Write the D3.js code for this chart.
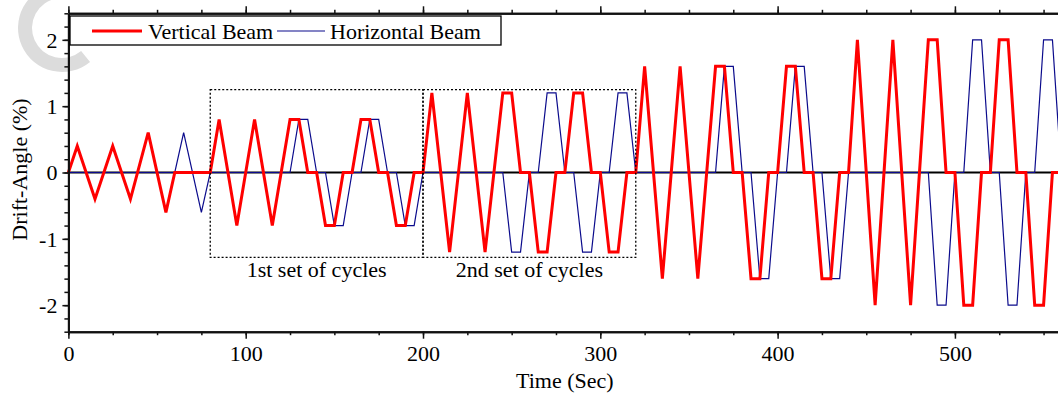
<!DOCTYPE html>
<html>
<head>
<meta charset="utf-8">
<script src="https://cdn.jsdelivr.net/npm/d3@7"></script>
<style>
  body { margin: 0; background: #fff; }
  svg text { font-family: "Liberation Serif", "Times New Roman", serif; }
</style>
</head>
<body>
<div id="chart"></div>
<script>
// loading protocol, drift angle (%) vs time (sec)
const vertTime = [0,5,15,25,35,45,55,60,80,85,95,105,115,125,130,135,140,145,150,155,160,165,170,175,180,185,190,195,200,
  205,215,225,235,245,250,255,260,265,270,275,280,285,290,295,300,305,310,315,320,
  325,335,345,355,365,370,375,380,385,390,395,400,405,410,415,420,425,430,435,440,
  445,455,465,475,485,490,495,500,505,510,515,520,525,530,535,540,545,550,555,560];
const vertDrift = [0,0.4,-0.4,0.4,-0.4,0.6,-0.6,0,0,0.8,-0.8,0.8,-0.8,0.8,0.8,0,0,-0.8,-0.8,0,0,0.8,0.8,0,0,-0.8,-0.8,0,0,
  1.2,-1.2,1.2,-1.2,1.2,1.2,0,0,-1.2,-1.2,0,0,1.2,1.2,0,0,-1.2,-1.2,0,0,
  1.6,-1.6,1.6,-1.6,1.6,1.6,0,0,-1.6,-1.6,0,0,1.6,1.6,0,0,-1.6,-1.6,0,0,
  2,-2,2,-2,2,2,0,0,-2,-2,0,0,2,2,0,0,-2,-2,0,0];

const horzTime = [0,60,65,75,80,125,130,135,140,145,150,155,160,165,170,175,180,185,190,195,200,
  245,250,255,260,265,270,275,280,285,290,295,300,305,310,315,320,
  365,370,375,380,385,390,395,400,405,410,415,420,425,430,435,440,
  485,490,495,500,505,510,515,520,525,530,535,540,545,550,555,560];
const horzDrift = [0,0,0.6,-0.6,0,0,0.8,0.8,0,0,-0.8,-0.8,0,0,0.8,0.8,0,0,-0.8,-0.8,0,
  0,-1.2,-1.2,0,0,1.2,1.2,0,0,-1.2,-1.2,0,0,1.2,1.2,0,
  0,1.6,1.6,0,0,-1.6,-1.6,0,0,1.6,1.6,0,0,-1.6,-1.6,0,
  0,-2,-2,0,0,2,2,0,0,-2,-2,0,0,2,2,0];

const xMajor = [0,100,200,300,400,500];
const yMajor = [-2,-1,0,1,2];
const seriesNames = ["Vertical Beam", "Horizontal Beam"];
const cycleSets = [
  {label: "1st set of cycles", t0: 80, t1: 200},
  {label: "2nd set of cycles", t0: 200, t1: 320}
];
const boxTop = 1.25, boxBottom = -1.28;

let width = 1058, height = 396,
  margin = ({top: 13.3, right: -3.3, bottom: 64.3, left: 68.4}),
  fontSize = 22;

const svg = d3.select("#chart")
  .append("svg")
  .attr("width", width)
  .attr("height", height)
  .attr("viewBox", [0, 0, width, height]);

let x = d3.scaleLinear()
  .domain([0, 560])
  .range([margin.left, width - margin.right]);

let y = d3.scaleLinear()
  .domain([-2.4, 2.4])
  .range([height - margin.bottom, margin.top]);

// faint watermark behind the plot
svg.append("path")
  .attr("transform", "translate(62,28)")
  .attr("d", d3.arc()({innerRadius: 30, outerRadius: 44, startAngle: 0.78 * Math.PI, endAngle: 1.95 * Math.PI}))
  .attr("fill", "#dcdcdc");

// zero line
svg.append("line")
  .attr("x1", x(0)).attr("x2", x(560))
  .attr("y1", y(0)).attr("y2", y(0))
  .attr("stroke", "#000")
  .attr("stroke-width", 2);

let line = d3.line()
  .x(d => x(d[0]))
  .y(d => y(d[1]));

svg.append("path")
  .datum(d3.zip(horzTime, horzDrift))
  .attr("d", line)
  .attr("fill", "none")
  .attr("stroke", "#0b0b8c")
  .attr("stroke-width", 1.2);

svg.append("path")
  .datum(d3.zip(vertTime, vertDrift))
  .attr("d", line)
  .attr("fill", "none")
  .attr("stroke", "#ff0000")
  .attr("stroke-width", 3)
  .attr("stroke-linejoin", "miter");

// dotted boxes round the cycle sets
svg.selectAll("rect.set")
  .data(cycleSets)
  .join("rect")
  .classed("set", true)
  .attr("x", d => x(d.t0))
  .attr("y", y(boxTop))
  .attr("width", d => x(d.t1) - x(d.t0))
  .attr("height", y(boxBottom) - y(boxTop))
  .attr("fill", "none")
  .attr("stroke", "#000")
  .attr("stroke-width", 1.3)
  .attr("stroke-dasharray", "2,2");

svg.selectAll("text.set")
  .data(cycleSets)
  .join("text")
  .classed("set", true)
  .attr("x", d => (x(d.t0) + x(d.t1)) / 2)
  .attr("y", 277)
  .attr("text-anchor", "middle")
  .attr("font-size", fontSize)
  .text(d => d.label);

// axes
function styleAxis(g) {
  g.select(".domain").attr("stroke", "#111").attr("stroke-width", 2);
  g.selectAll(".tick line").attr("stroke", "#111").attr("stroke-width", 1.5);
  g.selectAll("text").attr("font-size", fontSize).attr("fill", "#000")
    .style("font-family", '"Liberation Serif", "Times New Roman", serif');
}

let axisBottomG = svg.append("g")
  .attr("transform", `translate(0,${y(-2.4)})`);
axisBottomG.append("g")
  .call(d3.axisBottom(x).tickValues(d3.range(0, 561, 25)).tickSize(3.5).tickSizeOuter(0).tickFormat(""))
  .call(styleAxis);
axisBottomG.append("g")
  .call(d3.axisBottom(x).tickValues(xMajor).tickSize(7).tickSizeOuter(0).tickFormat(d => d))
  .call(styleAxis)
  .call(g => g.selectAll("text").attr("y", 29).attr("dy", 0));

let axisTopG = svg.append("g")
  .attr("transform", `translate(0,${y(2.4)})`);
axisTopG.append("g")
  .call(d3.axisTop(x).tickValues(d3.range(0, 561, 25)).tickSize(3.5).tickSizeOuter(0).tickFormat(""))
  .call(styleAxis);
axisTopG.append("g")
  .call(d3.axisTop(x).tickValues(xMajor).tickSize(7).tickSizeOuter(0).tickFormat(""))
  .call(styleAxis);

let axisLeftG = svg.append("g")
  .attr("transform", `translate(${x(0)},0)`);
axisLeftG.append("g")
  .call(d3.axisLeft(y).tickValues(d3.range(-2.4, 2.41, 0.2)).tickSize(4).tickSizeOuter(0).tickFormat(""))
  .call(styleAxis);
axisLeftG.append("g")
  .call(d3.axisLeft(y).tickValues(yMajor).tickSize(6).tickSizeOuter(0).tickFormat(d => String(d)))
  .call(styleAxis)
  .call(g => g.selectAll("text").attr("x", -11).attr("dy", "0.34em"));

let axisRightG = svg.append("g")
  .attr("transform", `translate(${x(560)},0)`);
axisRightG.append("g")
  .call(d3.axisRight(y).tickValues(yMajor).tickSize(6).tickSizeOuter(0).tickFormat(""))
  .call(styleAxis);

svg.append("text")
  .attr("x", (x(0) + x(560)) / 2)
  .attr("y", 388)
  .attr("text-anchor", "middle")
  .attr("font-size", fontSize)
  .text("Time (Sec)");

svg.append("text")
  .attr("transform", `translate(27,${(y(-2.4) + y(2.4)) / 2 - 3}) rotate(-90)`)
  .attr("text-anchor", "middle")
  .attr("font-size", fontSize)
  .text("Drift-Angle (%)");

// legend
let legend = svg.append("g");
legend.append("rect")
  .attr("x", 70).attr("y", 16)
  .attr("width", 431).attr("height", 29)
  .attr("fill", "#fff")
  .attr("stroke", "#000")
  .attr("stroke-width", 1.3);

let legendItems = [
  {name: seriesNames[0], color: "#ff0000", w: 3, x0: 92, x1: 142, tx: 148},
  {name: seriesNames[1], color: "#0b0b8c", w: 1.2, x0: 277, x1: 325, tx: 330}
];
legend.selectAll("line")
  .data(legendItems)
  .join("line")
  .attr("x1", d => d.x0).attr("x2", d => d.x1)
  .attr("y1", 31).attr("y2", 31)
  .attr("stroke", d => d.color)
  .attr("stroke-width", d => d.w);
legend.selectAll("text")
  .data(legendItems)
  .join("text")
  .attr("x", d => d.tx)
  .attr("y", 39)
  .attr("font-size", fontSize)
  .text(d => d.name);
</script>
</body>
</html>
